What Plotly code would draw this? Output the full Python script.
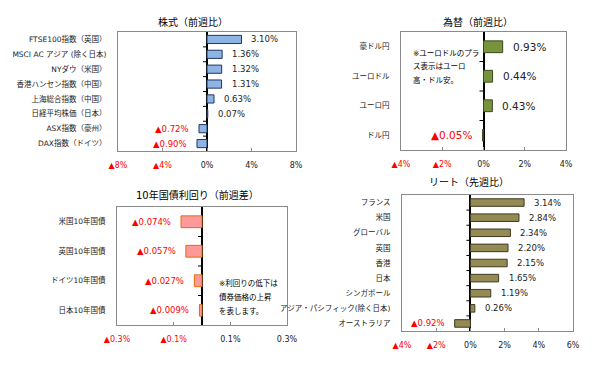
import plotly.graph_objects as go

W, H = 608, 368

# ---- data ----
stock_names = ["FTSE100指数（英国）", "MSCI AC アジア (除く日本)", "NYダウ（米国）", "香港ハンセン指数（中国）",
               "上海総合指数（中国）", "日経平均株価（日本）", "ASX指数（豪州）", "DAX指数（ドイツ）"]
stock_vals = [3.10, 1.36, 1.32, 1.31, 0.63, 0.07, -0.72, -0.90]

fx_names = ["豪ドル円", "ユーロドル", "ユーロ円", "ドル円"]
fx_vals = [0.93, 0.44, 0.43, -0.05]

bond_names = ["米国10年国債", "英国10年国債", "ドイツ10年国債", "日本10年国債"]
bond_vals = [-0.074, -0.057, -0.027, -0.009]

reit_names = ["フランス", "米国", "グローバル", "英国", "香港", "日本", "シンガポール",
              "アジア・パシフィック(除く日本)", "オーストラリア"]
reit_vals = [3.14, 2.84, 2.34, 2.20, 2.15, 1.65, 1.19, 0.26, -0.92]

stock_ticks = [-8, -4, 0, 4, 8]
fx_ticks = [-4, -2, 0, 2, 4]
bond_ticks = [-0.3, -0.1, 0.1, 0.3]
reit_ticks = [-4, -2, 0, 2, 4, 6]

fx_note = ["※ユーロドルのプラ", "ス表示はユーロ", "高・ドル安。"]
bond_note = ["※利回りの低下は", "債券価格の上昇", "を表します。"]

RED = "#FF0000"
FONT = "DejaVu Sans, Noto Sans CJK JP, sans-serif"


def px_x(p):
    return p / W


def px_y(p):
    return 1 - p / H


def fmt_tick(v, dec):
    s = f"{abs(v):.{dec}f}%"
    if v < 0:
        return f"<span style='color:{RED}'>▲{s}</span>"
    return s


def fmt_label(v, dec):
    s = f"{abs(v):.{dec}f}%"
    return ("▲" + s) if v < 0 else s


panels = [
    dict(names=stock_names, vals=stock_vals, ticks=stock_ticks, tdec=0, ldec=2, rng=[-8, 8],
         fill="#8DB4E2", line="#1F3864", box=(118, 296, 32, 151), width=0.55,
         title="株式（前週比）", tx=193, ty=22, lsize=8.5),
    dict(names=fx_names, vals=fx_vals, ticks=fx_ticks, tdec=0, ldec=2, rng=[-4, 4],
         fill="#77933C", line="#3B4A1E", box=(401, 566, 32, 150), width=0.4,
         title="為替（前週比）", tx=478, ty=22, lsize=10.5),
    dict(names=bond_names, vals=bond_vals, ticks=bond_ticks, tdec=1, ldec=3, rng=[-0.3, 0.3],
         fill="#FF9999", line="#E46C0A", box=(117, 287, 207, 325), width=0.4,
         title="10年国債利回り（前週差）", tx=197, ty=195, lsize=8.5),
    dict(names=reit_names, vals=reit_vals, ticks=reit_ticks, tdec=0, ldec=2, rng=[-4, 6],
         fill="#948A54", line="#3F3A22", box=(402, 573, 195, 331), width=0.5,
         title="リート（先週比）", tx=469, ty=183, lsize=8.5),
]

fig = go.Figure()
annotations = []
shapes = []
layout = {}

for i, p in enumerate(panels, start=1):
    sfx = "" if i == 1 else str(i)
    xa, ya = "x" + sfx, "y" + sfx
    fig.add_trace(go.Bar(
        x=p["vals"], y=p["names"], orientation="h", xaxis=xa, yaxis=ya,
        marker=dict(color=p["fill"], line=dict(color=p["line"], width=1)),
        width=p["width"], showlegend=False, hoverinfo="skip",
    ))
    x0, x1, y0, y1 = p["box"]
    layout["xaxis" + sfx] = dict(
        domain=[px_x(x0), px_x(x1)], anchor=ya, range=p["rng"], automargin=False,
        tickvals=p["ticks"], ticktext=[fmt_tick(v, p["tdec"]) for v in p["ticks"]],
        tickfont=dict(size=8, color="#222", family=FONT),
        showline=True, mirror=True, linecolor="#8A8A8A", linewidth=1,
        showgrid=False, zeroline=True, zerolinecolor="#000", zerolinewidth=1.5,
        ticks="inside", ticklen=3, tickcolor="#8A8A8A", ticklabelstandoff=6,
        fixedrange=True,
    )
    layout["yaxis" + sfx] = dict(
        domain=[px_y(y1), px_y(y0)], anchor=xa, autorange="reversed", automargin=False,
        type="category", tickfont=dict(size=7.5, color="#222", family=FONT),
        showline=True, mirror=True, linecolor="#8A8A8A", linewidth=1,
        showgrid=False, ticks="", ticklabelstandoff=9, fixedrange=True,
    )
    # title
    annotations.append(dict(text=p["title"], x=px_x(p["tx"]), y=px_y(p["ty"]), xref="paper", yref="paper",
                            xanchor="center", yanchor="middle", showarrow=False,
                            font=dict(size=10, color="#000", family=FONT)))
    # data labels
    for name, v in zip(p["names"], p["vals"]):
        neg = v < 0
        annotations.append(dict(
            text=fmt_label(v, p["ldec"]), x=v, y=name, xref=xa, yref=ya,
            xanchor="right" if neg else "left", xshift=-8 if neg else 8,
            yanchor="middle", showarrow=False,
            font=dict(size=p["lsize"], color=RED if neg else "#222", family=FONT)))
    # category tick marks on the zero line
    n = len(p["names"])
    for k in range(1, n):
        shapes.append(dict(type="line", xref=xa, yref=ya, xsizemode="pixel", xanchor=0,
                           x0=-4, x1=0, y0=k - 0.5, y1=k - 0.5,
                           line=dict(color="#000", width=1)))

# notes (one annotation per line for Excel-like line spacing)
for j, line in enumerate(fx_note):
    annotations.append(dict(text=line, x=px_x(411), y=px_y(53 + 13.5 * j),
                            xref="paper", yref="paper", xanchor="left", yanchor="middle",
                            showarrow=False, font=dict(size=7.5, color="#000", family=FONT)))
for j, line in enumerate(bond_note):
    annotations.append(dict(text=line, x=px_x(217), y=px_y(283 + 14 * j),
                            xref="paper", yref="paper", xanchor="left", yanchor="middle",
                            showarrow=False, font=dict(size=7.5, color="#000", family=FONT)))

fig.update_layout(
    width=W, height=H, margin=dict(l=0, r=0, t=0, b=0),
    paper_bgcolor="white", plot_bgcolor="white",
    annotations=annotations, shapes=shapes, bargap=0.4,
    font=dict(family=FONT), **layout,
)

fig.write_html("out.html", config={"displayModeBar": False},
               post_script="document.body.style.margin='0';")
